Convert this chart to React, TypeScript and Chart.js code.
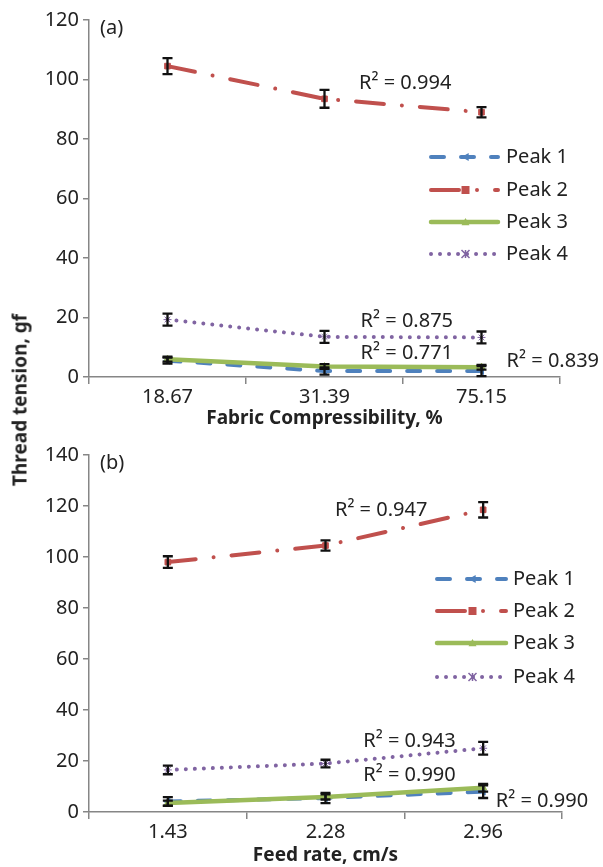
import React, { useEffect, useRef } from "react";
import { Chart, registerables } from "chart.js";

Chart.register(...registerables);

// ---------- shared ----------
const seriesNames = ["Peak 1", "Peak 2", "Peak 3", "Peak 4"];
const seriesColors = ["#4F81BD", "#C0504D", "#9BBB59", "#8064A2"];

// ---------- chart (a) ----------
const catsA = ["18.67", "31.39", "75.15"];
const peak1A = [5.5, 2.0, 2.0];
const peak2A = [104.5, 93.5, 89.0];
const peak3A = [6.0, 3.5, 3.3];
const peak4A = [19.3, 13.5, 13.3];
const err1A = [1.0, 1.2, 1.7];
const err2A = [2.7, 3.0, 1.7];
const err3A = [0.8, 0.8, 0.8];
const err4A = [2.0, 2.0, 2.0];
const r2TextA = ["R² = 0.994", "R² = 0.875", "R² = 0.771", "R² = 0.839"];
const r2XA = [1.22, 1.23, 1.23, 2.16];
const r2YA = [98.8, 18.8, 8.1, 5.4];

// ---------- chart (b) ----------
const catsB = ["1.43", "2.28", "2.96"];
const peak1B = [4.1, 5.5, 8.0];
const peak2B = [98.0, 104.5, 118.5];
const peak3B = [3.5, 5.9, 9.5];
const peak4B = [16.5, 19.0, 25.0];
const err1B = [1.7, 2.0, 2.5];
const err2B = [2.3, 2.0, 3.0];
const err3B = [1.0, 1.0, 1.5];
const err4B = [1.7, 1.5, 2.5];
const r2TextB = ["R² = 0.947", "R² = 0.943", "R² = 0.990", "R² = 0.990"];
const r2XB = [1.06, 1.24, 1.24, 2.08];
const r2YB = [118.4, 27.8, 14.5, 4.3];

const FONT = "'Noto Sans', 'DejaVu Sans', sans-serif";
const TEXT = "#222222";
const AXIS = "#868686";

const dashes: number[][] = [[13, 17], [28, 18, 0.01, 18], [], [0.01, 9]];
const lineWidths = [4, 4, 4.5, 4];
const pointStyles: any[] = ["triangle", "rect", "triangle", "star"];
const pointRots = [-90, 0, 0, 0];
const orders = [4, 3, 2, 1];

function drawMarker(ctx: CanvasRenderingContext2D, style: string, x: number, y: number, color: string, rot: number) {
  ctx.save();
  ctx.translate(x, y);
  ctx.rotate((rot * Math.PI) / 180);
  ctx.fillStyle = color;
  ctx.strokeStyle = color;
  ctx.setLineDash([]);
  ctx.lineWidth = 1.5;
  const r = 4;
  ctx.beginPath();
  if (style === "triangle") {
    ctx.moveTo(0, -r);
    ctx.lineTo(r, r * 0.8);
    ctx.lineTo(-r, r * 0.8);
    ctx.closePath();
    ctx.fill();
  } else if (style === "rect") {
    ctx.rect(-r, -r, 2 * r, 2 * r);
    ctx.fill();
  } else {
    ctx.moveTo(-r, -r); ctx.lineTo(r, r);
    ctx.moveTo(r, -r); ctx.lineTo(-r, r);
    ctx.moveTo(0, -r); ctx.lineTo(0, r);
    ctx.stroke();
  }
  ctx.restore();
}

function makeOverlay(
  errs: number[][],
  r2Text: string[],
  r2X: number[],
  r2Y: number[],
  panel: string,
  panelPos: [number, number],
  legend: { x0: number; x1: number; tx: number; rows: number[] }
) {
  return {
    id: "overlay" + panel,
    afterDatasetsDraw(chart: any) {
      const ctx: CanvasRenderingContext2D = chart.ctx;
      const xs = chart.scales.x;
      const ys = chart.scales.y;
      // error bars
      ctx.save();
      ctx.strokeStyle = "#111111";
      ctx.lineWidth = 2.3;
      ctx.setLineDash([]);
      chart.data.datasets.forEach((ds: any, di: number) => {
        ds.data.forEach((v: number, i: number) => {
          const e = errs[di][i];
          const x = xs.getPixelForValue(i);
          const yt = ys.getPixelForValue(v + e);
          const yb = ys.getPixelForValue(v - e);
          ctx.beginPath();
          ctx.moveTo(x, yt); ctx.lineTo(x, yb);
          ctx.moveTo(x - 5, yt); ctx.lineTo(x + 5, yt);
          ctx.moveTo(x - 5, yb); ctx.lineTo(x + 5, yb);
          ctx.stroke();
        });
      });
      ctx.restore();
      // R² annotations
      ctx.save();
      ctx.fillStyle = TEXT;
      ctx.font = `20px ${FONT}`;
      ctx.textAlign = "left";
      ctx.textBaseline = "middle";
      r2Text.forEach((t, i) => {
        const step = xs.getPixelForValue(1) - xs.getPixelForValue(0);
        const x = xs.getPixelForValue(0) + r2X[i] * step;
        const y = ys.getPixelForValue(r2Y[i]);
        ctx.fillText(t, x, y);
      });
      // panel label
      ctx.fillText(panel, panelPos[0], panelPos[1]);
      // legend
      seriesNames.forEach((name, i) => {
        const y = legend.rows[i];
        ctx.save();
        ctx.strokeStyle = seriesColors[i];
        ctx.lineWidth = lineWidths[i];
        ctx.lineCap = i === 1 || i === 3 ? "round" : i === 0 ? "round" : "round";
        ctx.setLineDash(dashes[i]);
        ctx.beginPath();
        ctx.moveTo(legend.x0, y);
        ctx.lineTo(legend.x1, y);
        ctx.stroke();
        ctx.restore();
        drawMarker(ctx, pointStyles[i], (legend.x0 + legend.x1) / 2 + 1, y, seriesColors[i], pointRots[i]);
        ctx.fillStyle = TEXT;
        ctx.fillText(name, legend.tx, y);
      });
      ctx.restore();
    },
  };
}

function buildConfig(
  cats: string[],
  series: number[][],
  yMax: number,
  xTitle: string,
  padding: any,
  xHeight: number,
  overlay: any
): any {
  return {
    type: "line",
    data: {
      labels: cats,
      datasets: series.map((d, i) => ({
        label: seriesNames[i],
        data: d,
        borderColor: seriesColors[i],
        backgroundColor: seriesColors[i],
        borderWidth: lineWidths[i],
        borderDash: dashes[i],
        borderCapStyle: "round",
        pointStyle: pointStyles[i],
        pointRotation: pointRots[i],
        pointRadius: 4,
        pointBorderWidth: 1,
        tension: 0,
        fill: false,
        order: orders[i],
      })),
    },
    options: {
      responsive: false,
      animation: false,
      devicePixelRatio: 1,
      layout: { padding },
      plugins: { legend: { display: false }, tooltip: { enabled: false }, title: { display: false } },
      scales: {
        x: {
          type: "category",
          offset: true,
          grid: {
            display: true,
            offset: true,
            drawOnChartArea: false,
            drawTicks: true,
            tickLength: 7,
            color: AXIS,
            lineWidth: 1.5,
          },
          border: { display: true, color: AXIS, width: 1.5 },
          ticks: { color: TEXT, font: { family: FONT, size: 20 }, padding: 1, maxRotation: 0 },
          title: {
            display: true,
            text: xTitle,
            color: TEXT,
            font: { family: FONT, size: 19, weight: "bold" },
            padding: { top: -4, bottom: 0 },
          },
          afterFit: (s: any) => {
            s.height = xHeight;
          },
        },
        y: {
          min: 0,
          max: yMax,
          grid: {
            display: true,
            drawOnChartArea: false,
            drawTicks: true,
            tickLength: 6,
            color: AXIS,
            lineWidth: 1.5,
          },
          border: { display: true, color: AXIS, width: 1.5 },
          ticks: { stepSize: 20, color: TEXT, font: { family: FONT, size: 20 }, padding: 4 },
          afterFit: (s: any) => {
            s.width = 89;
          },
        },
      },
    },
    plugins: [overlay],
  };
}

export default function App() {
  const refA = useRef<HTMLCanvasElement>(null);
  const refB = useRef<HTMLCanvasElement>(null);

  useEffect(() => {
    const overlayA = makeOverlay(
      [err1A, err2A, err3A, err4A],
      r2TextA,
      r2XA,
      r2YA,
      "(a)",
      [100, 28],
      { x0: 431, x1: 498, tx: 506, rows: [157, 190, 222, 254] }
    );
    const overlayB = makeOverlay(
      [err1B, err2B, err3B, err4B],
      r2TextB,
      r2XB,
      r2YB,
      "(b)",
      [100, 33],
      { x0: 437, x1: 506, tx: 513, rows: [149, 181, 213, 247] }
    );
    const a = new Chart(
      refA.current as HTMLCanvasElement,
      buildConfig(catsA, [peak1A, peak2A, peak3A, peak4A], 120, "Fabric Compressibility, %",
        { left: 0, right: 43, top: 20, bottom: 0 }, 53, overlayA)
    );
    const b = new Chart(
      refB.current as HTMLCanvasElement,
      buildConfig(catsB, [peak1B, peak2B, peak3B, peak4B], 140, "Feed rate, cm/s",
        { left: 0, right: 41, top: 25, bottom: 0 }, 55, overlayB)
    );
    return () => {
      a.destroy();
      b.destroy();
    };
  }, []);

  return (
    <div style={{ position: "absolute", left: 0, top: 0, width: 603, height: 867, background: "#ffffff" }}>
      <canvas ref={refA} width={603} height={430} style={{ position: "absolute", left: 0, top: 0, width: 603, height: 430 }} />
      <canvas ref={refB} width={603} height={437} style={{ position: "absolute", left: 0, top: 430, width: 603, height: 437 }} />
      <div
        style={{
          position: "absolute",
          left: 20,
          top: 400,
          transform: "translate(-50%, -50%) rotate(-90deg)",
          fontFamily: FONT,
          fontWeight: "bold",
          fontSize: 19,
          color: TEXT,
          whiteSpace: "nowrap",
          lineHeight: 1,
        }}
      >
        Thread tension, gf
      </div>
    </div>
  );
}
